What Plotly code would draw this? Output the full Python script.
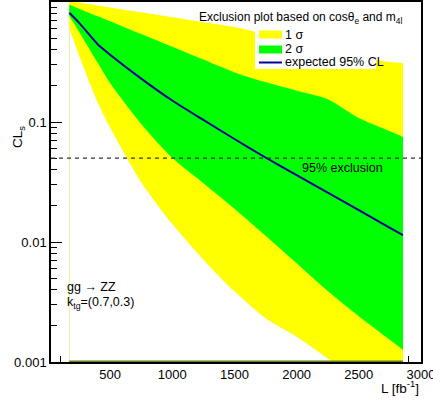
import plotly.graph_objects as go

# ---------------- data ----------------
L = [172, 250, 400, 500, 750, 1000, 1250, 1500, 1750, 2000, 2250, 2500, 2750, 2855]
expected = [0.814, 0.673, 0.445, 0.364, 0.230, 0.151, 0.104, 0.0722, 0.0506, 0.0361,
            0.0258, 0.0184, 0.0131, 0.0114]
inner_lo = [0.764, 0.566, 0.313, 0.211, 0.0964, 0.0503, 0.0309, 0.01895, 0.0113, 0.00665,
            0.00391, 0.00241, 0.00153, 0.00126]
inner_hi = [0.95, 0.88, 0.76, 0.692, 0.54, 0.423, 0.331, 0.259, 0.215, 0.182,
            0.155, 0.108, 0.0838, 0.075]
outer_lo = [0.607, 0.36, 0.146, 0.0898, 0.0315, 0.0141, 0.00713, 0.00388, 0.00231, 0.00162,
            0.00107, 0.0007, 0.0005, 0.00045]
outer_hi = [1.02, 0.99, 0.937, 0.902, 0.82, 0.746, 0.679, 0.618, 0.539, 0.466,
            0.403, 0.348, 0.316, 0.31]

CL_THRESHOLD = 0.05
X_RANGE = [25, 3000]
Y_MIN, Y_MAX = 0.001, 1.0
x_tickvals = [500, 1000, 1500, 2000, 2500, 3000]
y_tickvals = [0.001, 0.01, 0.1]
y_ticktext = ["0.001", "0.01", "0.1"]

FONT = "Liberation Sans, Arial, Helvetica, sans-serif"
YELLOW = "#ffff00"
GREEN = "#00ff00"
BLUE = "#000099"
SM = 0.7

fig = go.Figure()

def edge(y, fill=None, fillcolor=None):
    fig.add_trace(go.Scatter(x=L, y=y, mode="lines",
                             line=dict(width=0, shape="spline", smoothing=SM),
                             fill=fill, fillcolor=fillcolor,
                             showlegend=False, hoverinfo="skip"))

# white region below the bands (hides the inside ticks, as in the original)
fig.add_trace(go.Scatter(x=L, y=[Y_MIN] * len(L), mode="lines", line=dict(width=0),
                         showlegend=False, hoverinfo="skip"))
edge(outer_lo, "tonexty", "white")
# outer band (yellow)
edge(outer_hi, "tonexty", YELLOW)
# inner band (green)
edge(inner_lo)
edge(inner_hi, "tonexty", GREEN)
# expected
fig.add_trace(go.Scatter(x=L, y=expected, mode="lines",
                         line=dict(color=BLUE, width=2, shape="spline", smoothing=SM),
                         showlegend=False))

# histogram edge lines
fig.add_trace(go.Scatter(x=[L[0], L[0]], y=[Y_MIN, outer_lo[0]], mode="lines",
                         line=dict(color="#e2f0a8", width=1), showlegend=False, hoverinfo="skip"))
fig.add_trace(go.Scatter(x=[L[0], L[-1]], y=[Y_MIN, Y_MIN], mode="lines",
                         line=dict(color="#5f7f1f", width=3), showlegend=False, hoverinfo="skip"))

# 95% exclusion dashed line
fig.add_shape(type="line", xref="paper", x0=0, x1=1, yref="y",
              y0=CL_THRESHOLD, y1=CL_THRESHOLD,
              line=dict(color="#333333", width=1.3, dash="4px,4px"))

# ---------- manual legend ----------
W, H = 370.0, 360.0  # plot area size in px
def px(xp):
    return (xp - 51) / W
def py(yp):
    return (362 - yp) / H

fig.add_shape(type="rect", xref="paper", yref="paper", x0=px(255), x1=px(376),
              y0=py(69), y1=py(24), fillcolor="white", line=dict(width=0))
fig.add_shape(type="rect", xref="paper", yref="paper", x0=px(259), x1=px(282),
              y0=py(38.5), y1=py(30.5), fillcolor=YELLOW, line=dict(width=0))
fig.add_shape(type="rect", xref="paper", yref="paper", x0=px(259), x1=px(282),
              y0=py(53.5), y1=py(45.5), fillcolor=GREEN, line=dict(width=0))
fig.add_shape(type="line", xref="paper", yref="paper", x0=px(259), x1=px(282),
              y0=py(62.5), y1=py(62.5), line=dict(color=BLUE, width=2))

def txt(text, xp, yp, size=12.5, xanchor="left", angle=0):
    fig.add_annotation(text=text, xref="paper", yref="paper", x=px(xp), y=py(yp),
                       xanchor=xanchor, yanchor="middle", showarrow=False, textangle=angle,
                       font=dict(family=FONT, size=size, color="black"))

txt("Exclusion plot based on cosθ<sub>e</sub> and m<sub>4l</sub>", 197, 18.5, size=12)
txt("1 σ", 283, 34.5)
txt("2 σ", 283, 49.5)
txt("expected 95% CL", 283, 62)
txt("95% exclusion", 300, 168)
txt("gg → ZZ", 65, 287)
txt("k<sub>tg</sub>=(0.7,0.3)", 65, 303)
txt("CL<sub>s</sub>", 18, 137, size=13.5, xanchor="center", angle=-90)
txt("L [fb<sup>-1</sup>]", 421, 387, size=13.5, xanchor="right")

fig.update_layout(
    width=433, height=401,
    margin=dict(l=51, r=12, t=2, b=39, autoexpand=False),
    paper_bgcolor="white", plot_bgcolor="white",
    font=dict(family=FONT, size=13, color="black"),
    showlegend=False,
)
fig.update_xaxes(range=X_RANGE, tickvals=x_tickvals, ticks="inside", ticklen=11,
                 tickwidth=1.3, tickcolor="black", showgrid=False, zeroline=False,
                 showline=True, linecolor="black", linewidth=1.5, mirror=True,
                 layer="below traces", tickfont=dict(size=13), automargin=False,
                 ticklabeloverflow="allow",
                 minor=dict(dtick=100, ticks="inside", ticklen=6, tickcolor="black", showgrid=False))
fig.update_yaxes(type="log", range=[-3, 0], tickvals=y_tickvals, ticktext=y_ticktext,
                 ticks="inside", ticklen=11, tickwidth=1.3, tickcolor="black",
                 showgrid=False, zeroline=False, showline=True, linecolor="black",
                 linewidth=1.5, mirror=True, layer="below traces", tickfont=dict(size=13),
                 automargin=False,
                 minor=dict(tickvals=[m * 10 ** e for e in (-3, -2, -1) for m in range(2, 10)],
                            ticks="inside", ticklen=6, tickcolor="black", showgrid=False))

fig.write_html("out.html", config={"displayModeBar": False},
               post_script="document.body.style.margin='0';")
